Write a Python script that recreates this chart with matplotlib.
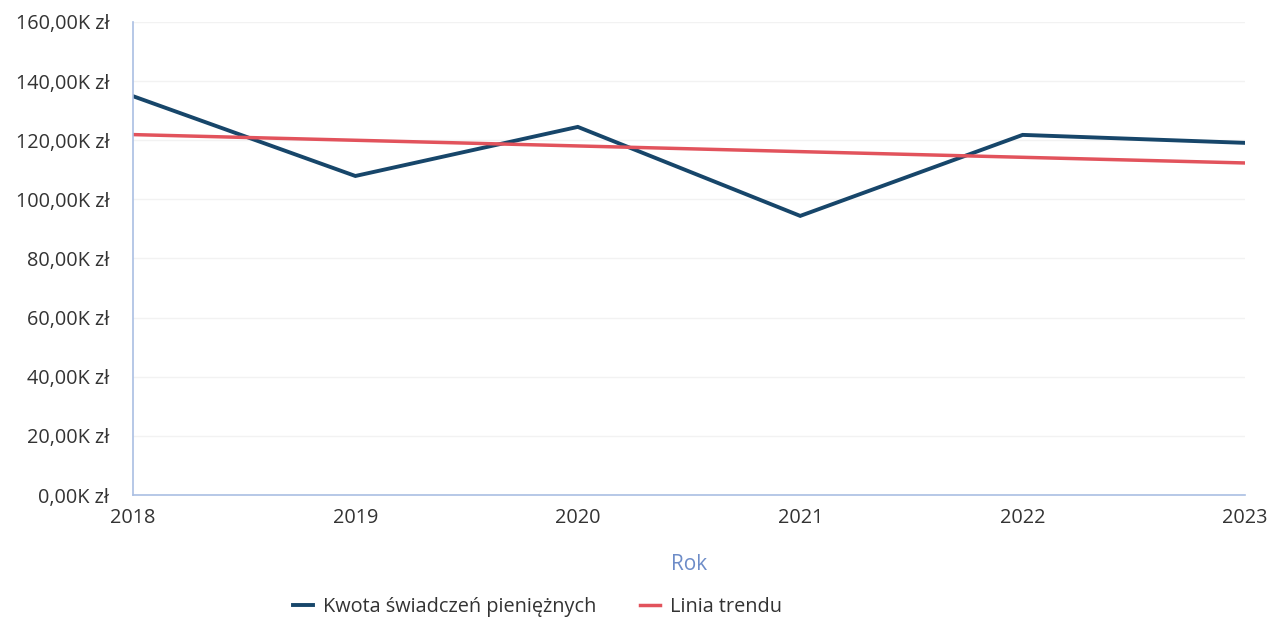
import matplotlib
matplotlib.use("Agg")
import matplotlib.pyplot as plt
from matplotlib.ticker import FuncFormatter

plt.rcParams['font.family'] = ['Open Sans', 'DejaVu Sans']

# data (thousands of zł)
years = [2018, 2019, 2020, 2021, 2022, 2023]
kwota = [134.9, 107.9, 124.5, 94.4, 121.8, 119.1]
trend_years = [2018, 2023]
trend = [121.9, 112.3]

dark_blue = '#17466a'
red = '#e2535c'
axis_blue = '#aabfe3'
text_col = '#333333'

fig = plt.figure(figsize=(12.71, 6.18), dpi=100)
ax = fig.add_axes([0.1046, 0.199, 0.875, 0.7655])

ax.plot(years, kwota, color=dark_blue, lw=2.8, label='Kwota świadczeń pieniężnych',
        solid_joinstyle='miter')
ax.plot(trend_years, trend, color=red, lw=2.5, label='Linia trendu')

ax.set_xlim(2018, 2023)
ax.set_ylim(0, 160)
ax.set_yticks(range(0, 161, 20))
ax.set_xticks(years)
ax.yaxis.set_major_formatter(FuncFormatter(lambda v, p: f"{v:.2f}".replace('.', ',') + "K zł"))

ax.grid(axis='y', color='#f2f2f2', lw=1)
ax.set_axisbelow(True)
for s in ['top', 'right']:
    ax.spines[s].set_visible(False)
for s in ['left', 'bottom']:
    ax.spines[s].set_color(axis_blue)
    ax.spines[s].set_linewidth(1.2)

ax.tick_params(axis='both', length=0, labelsize=14.3, colors=text_col)
ax.tick_params(axis='y', pad=17)
ax.tick_params(axis='x', pad=9)

ax.set_xlabel('Rok', color='#6d8cc8', fontsize=15, labelpad=19)

fig.legend(loc='center', bbox_to_anchor=(0.423, 0.018), ncol=2, frameon=False,
           fontsize=14.3, handlelength=1.0, columnspacing=2.2, handletextpad=0.5,
           labelcolor=text_col)

fig.savefig('out.png', dpi=100)
